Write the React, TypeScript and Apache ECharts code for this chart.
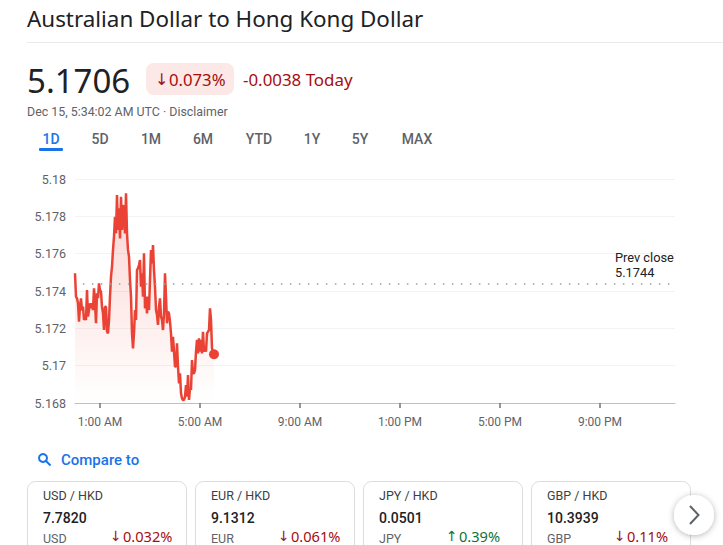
import React, { useEffect, useRef } from "react";
import * as echarts from "echarts";

const rates = [
  5.17495, 5.1737, 5.17361, 5.17334, 5.17236, 5.17316, 5.17361, 5.17298, 5.17316, 5.17245, 5.17254, 5.17245,
  5.17405, 5.17263, 5.17298, 5.17334, 5.17307, 5.17334, 5.17298, 5.17414, 5.17334, 5.17227, 5.17388, 5.17361,
  5.17441, 5.17405, 5.17396, 5.17316, 5.1728, 5.17191, 5.17316, 5.17316, 5.17182, 5.17173, 5.17245, 5.1737,
  5.17477, 5.1753, 5.1762, 5.17691, 5.17798, 5.17709, 5.17914, 5.17727, 5.17843, 5.17682, 5.17905, 5.17727,
  5.17861, 5.17816, 5.17709, 5.17923, 5.17709, 5.1762, 5.17584, 5.17459, 5.1737, 5.17173, 5.17093, 5.17173,
  5.17298, 5.17245, 5.17513, 5.17521, 5.17539, 5.17566, 5.17423, 5.17495, 5.1737, 5.17602, 5.17307, 5.1737,
  5.1728, 5.1737, 5.17298, 5.17459, 5.1762, 5.17548, 5.17646, 5.17513, 5.17423, 5.17298, 5.17271, 5.17218,
  5.17316, 5.17361, 5.17263, 5.17245, 5.17191, 5.1728, 5.17495, 5.1737, 5.17227, 5.17289, 5.1728, 5.17236,
  5.17173, 5.17075, 5.17155, 5.17075, 5.16995, 5.16995, 5.1712, 5.16995, 5.16905, 5.16959, 5.16852, 5.16825,
  5.16816, 5.16816, 5.16834, 5.16896, 5.16834, 5.1695, 5.16816, 5.16879, 5.1687, 5.1703, 5.16959, 5.16959,
  5.16977, 5.17075, 5.17138, 5.17066, 5.17146, 5.17075, 5.17138, 5.17066, 5.17182, 5.17075, 5.17102, 5.17075,
  5.17173, 5.17182, 5.17191, 5.17307, 5.17245, 5.17093, 5.17075, 5.17061,
];
const minutesPerSample = 2.4;
const tickMinutes = [60, 300, 540, 780, 1020, 1260];
const tickLabels = ["1:00 AM", "5:00 AM", "9:00 AM", "1:00 PM", "5:00 PM", "9:00 PM"];
const prevClose = 5.1744;
const tabs = ["1D", "5D", "1M", "6M", "YTD", "1Y", "5Y", "MAX"];
const tabCentres = [51, 100, 151, 203, 259, 312, 360, 417];
const cardPairs = ["USD / HKD", "EUR / HKD", "JPY / HKD", "GBP / HKD"];
const cardPrices = ["7.7820", "9.1312", "0.0501", "10.3939"];
const cardCodes = ["USD", "EUR", "JPY", "GBP"];
const cardArrows = ["↓", "↓", "↑", "↓"];
const cardChanges = ["0.032%", "0.061%", "0.39%", "0.11%"];

const SANS = "'Noto Sans', 'Open Sans', sans-serif";
const ROBOTO = "Roboto, sans-serif";
const ARROW = "'DejaVu Sans', sans-serif";
const RED = "#a50e0e";
const GREEN = "#137333";
const GREY = "#5f6368";
const BLUE = "#1a73e8";

function txt(x: number, y: number, text: string, fontSize: number, fill: string, opts: any = {}) {
  return {
    type: "text",
    x,
    y,
    z: 10,
    silent: true,
    style: {
      text,
      fontSize,
      fill,
      fontFamily: opts.fontFamily || SANS,
      fontWeight: opts.fontWeight || 400,
      align: opts.align || "left",
      verticalAlign: "middle",
    },
  };
}

function buildGraphics() {
  const g: any[] = [];
  g.push(txt(27, 18, "Australian Dollar to Hong Kong Dollar", 22.4, "#202124"));
  g.push({ type: "rect", shape: { x: 27, y: 42, width: 696, height: 1 }, style: { fill: "#e8eaed" } });
  g.push(txt(27, 80, "5.1706", 33, "#202124"));
  g.push({ type: "rect", shape: { x: 146, y: 63, width: 88, height: 32, r: 8 }, style: { fill: "#fce8e6" } });
  g.push(txt(155, 79, "↓", 16, RED, { fontFamily: ARROW }));
  g.push(txt(169, 79, "0.073%", 16.7, RED));
  g.push(txt(243, 79, "-0.0038 Today", 16.9, RED));
  g.push(txt(27, 111, "Dec 15, 5:34:02 AM UTC · Disclaimer", 12.4, GREY, { fontFamily: ROBOTO }));
  tabs.forEach((t, i) =>
    g.push(txt(tabCentres[i], 139, t, 14, i === 0 ? BLUE : GREY, { align: "center", fontWeight: 500, fontFamily: ROBOTO }))
  );
  g.push({ type: "rect", shape: { x: 39, y: 148, width: 24, height: 3, r: 1 }, style: { fill: BLUE } });
  g.push(txt(615, 257, "Prev close", 12.8, "#202124", { fontFamily: ROBOTO }));
  g.push(txt(615, 272, "5.1744", 12.8, "#202124", { fontFamily: ROBOTO }));

  g.push({ type: "circle", shape: { cx: 43, cy: 458, r: 4 }, style: { fill: "none", stroke: BLUE, lineWidth: 2 } });
  g.push({ type: "line", shape: { x1: 46, y1: 461, x2: 50.5, y2: 465.5 }, style: { stroke: BLUE, lineWidth: 2 } });
  g.push(txt(61, 460, "Compare to", 15, BLUE, { fontFamily: ROBOTO, fontWeight: 500 }));

  cardPairs.forEach((pair, i) => {
    const x = 27 + i * 168;
    const color = cardArrows[i] === "↑" ? GREEN : RED;
    g.push({
      type: "rect",
      shape: { x: x + 0.5, y: 481.5, width: 159, height: 100, r: 8 },
      style: { fill: "#fff", stroke: "#dadce0", lineWidth: 1 },
    });
    g.push(txt(x + 16, 495, pair, 12.5, "#3c4043", { fontFamily: ROBOTO }));
    g.push(txt(x + 16, 518, cardPrices[i], 14, "#202124", { fontFamily: ROBOTO, fontWeight: 500 }));
    g.push(txt(x + 16, 538, cardCodes[i], 12.5, GREY, { fontFamily: ROBOTO }));
    g.push(txt(x + 83, 536, cardArrows[i], 14, color, { fontFamily: ARROW }));
    g.push(txt(x + 96, 536, cardChanges[i], 14.6, color, { fontFamily: SANS }));
  });

  g.push({
    type: "circle",
    z: 11,
    shape: { cx: 694, cy: 515, r: 20 },
    style: { fill: "#fff", shadowBlur: 6, shadowColor: "rgba(0,0,0,0.3)", shadowOffsetY: 1 },
  });
  g.push({
    type: "polyline",
    z: 12,
    shape: { points: [[690, 506], [698.5, 515], [690, 524]] },
    style: { stroke: "#5f6368", lineWidth: 2, fill: "none" },
  });
  return g;
}

export default function App() {
  const ref = useRef<HTMLDivElement>(null);
  useEffect(() => {
    document.body.style.margin = "0";
    const chart = echarts.init(ref.current!, undefined, { renderer: "svg" });
    const points = rates.map((v, i) => [i * minutesPerSample, v]);
    chart.setOption({
      animation: false,
      backgroundColor: "#fff",
      grid: { left: 75, right: 48, top: 179, height: 224 },
      xAxis: {
        type: "value",
        min: 0,
        max: 1440,
        splitLine: { show: false },
        axisLine: { lineStyle: { color: "#bdc1c6", width: 1 } },
        axisTick: { customValues: tickMinutes, length: 5, lineStyle: { color: "#70757a", width: 1.5 } },
        axisLabel: {
          customValues: tickMinutes,
          formatter: (v: number) => tickLabels[tickMinutes.indexOf(v)] ?? "",
          color: "#5f6368",
          fontFamily: ROBOTO,
          fontSize: 12,
          margin: 13,
        },
      },
      yAxis: {
        type: "value",
        min: 5.168,
        max: 5.18,
        interval: 0.002,
        axisLine: { show: false },
        axisTick: { show: false },
        splitLine: { lineStyle: { color: "#f1f3f4", width: 1 } },
        axisLabel: {
          color: "#5f6368",
          fontFamily: ROBOTO,
          fontSize: 12.5,
          margin: 9,
          formatter: (v: number) => String(Number(v.toFixed(3))),
        },
      },
      series: [
        {
          type: "line",
          data: points,
          showSymbol: false,
          smooth: false,
          lineStyle: { color: "#ea4335", width: 2.5 },
          areaStyle: {
            origin: "start",
            color: new echarts.graphic.LinearGradient(0, 0, 0, 1, [
              { offset: 0, color: "rgba(234,67,53,0.32)" },
              { offset: 1, color: "rgba(234,67,53,0)" },
            ]),
          },
          markLine: {
            silent: true,
            symbol: "none",
            label: { show: false },
            lineStyle: { color: "#9aa0a6", type: [1.5, 7.5], width: 1.5 },
            data: [[{ coord: [19, prevClose] }, { coord: [1433, prevClose] }]],
          },
        },
        {
          type: "scatter",
          data: [points[points.length - 1]],
          symbol: "circle",
          symbolSize: 10,
          itemStyle: { color: "#ea4335", opacity: 1 },
        },
      ],
      graphic: { elements: buildGraphics() },
    });
    return () => chart.dispose();
  }, []);
  return <div ref={ref} style={{ position: "fixed", left: 0, top: 0, width: 723, height: 545 }} />;
}
